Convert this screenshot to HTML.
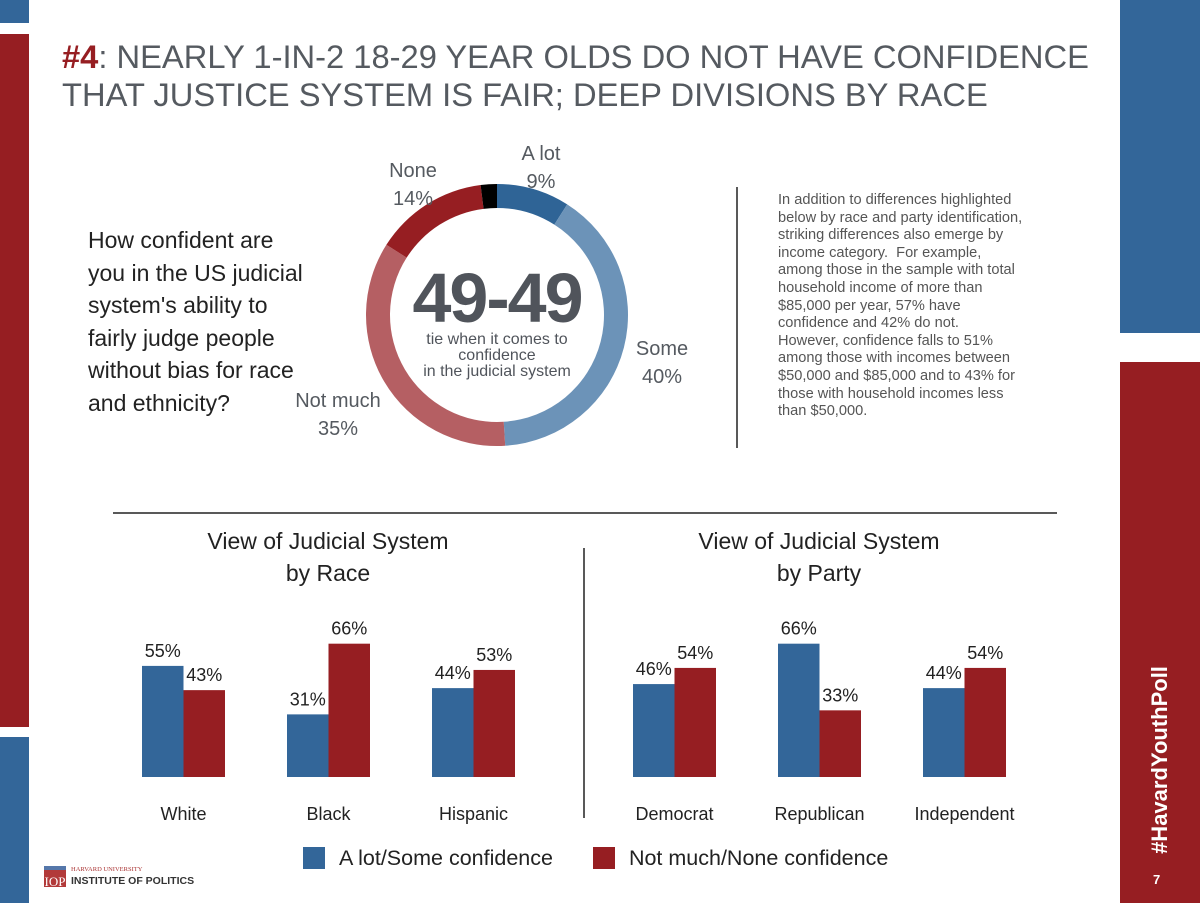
<!DOCTYPE html>
<html><head><meta charset="utf-8"><style>
body{margin:0;width:1200px;height:903px;background:#fff;position:relative;overflow:hidden;font-family:"Liberation Sans",sans-serif}
.abs{position:absolute}
</style></head><body>
<div class="abs" style="left:0;top:0;width:29px;height:23px;background:#336699"></div>
<div class="abs" style="left:0;top:34px;width:29px;height:693px;background:#961e22"></div>
<div class="abs" style="left:0;top:737px;width:29px;height:166px;background:#336699"></div>
<div class="abs" style="left:1120px;top:0;width:80px;height:333px;background:#336699"></div>
<div class="abs" style="left:1120px;top:362px;width:80px;height:541px;background:#961e22"></div>
<div class="abs" style="left:1160px;top:760px;transform:translate(-50%,-50%) rotate(-90deg);color:#fff;font-weight:bold;font-size:22px;white-space:nowrap">#HavardYouthPoll</div>
<div class="abs" style="left:1153px;top:872px;color:#fff;font-weight:bold;font-size:13px">7</div>

<div class="abs" style="left:62px;top:38px;font-size:32.7px;line-height:38px;color:#555a60;width:1056px"><span style="color:#961e22;font-weight:bold">#4</span>: NEARLY 1-IN-2 18-29 YEAR OLDS DO NOT HAVE CONFIDENCE<br>THAT JUSTICE SYSTEM IS FAIR; DEEP DIVISIONS BY RACE</div>

<div class="abs" style="left:88px;top:224px;font-size:23px;line-height:32.5px;color:#222">How confident are<br>you in the US judicial<br>system's ability to<br>fairly judge people<br>without bias for race<br>and ethnicity?</div>

<svg class="abs" style="left:0;top:0" width="1120" height="903">
<g id="donut"></g>
<g id="bars"></g>
<line x1="113" y1="513" x2="1057" y2="513" stroke="#222" stroke-width="1.5"/>
<line x1="584" y1="548" x2="584" y2="818" stroke="#222" stroke-width="1.5"/>
<line x1="737" y1="187" x2="737" y2="448" stroke="#222" stroke-width="1.5"/>
</svg>

<div class="abs" style="left:778px;top:192px;white-space:nowrap;font-size:14.6px;line-height:17.6px;color:#555">In addition to differences highlighted<br>below by race and party identification,<br>striking differences also emerge by<br>income category.&nbsp; For example,<br>among those in the sample with total<br>household income of more than<br>$85,000 per year, 57% have<br>confidence and 42% do not.<br>However, confidence falls to 51%<br>among those with incomes between<br>$50,000 and $85,000 and to 43% for<br>those with household incomes less<br>than $50,000.</div>

<div class="abs" style="left:377px;top:258px;width:240px;text-align:center;font-size:70px;font-weight:bold;color:#50545b;letter-spacing:-2px">49-49</div>
<div class="abs" style="left:397px;top:332px;width:200px;text-align:center;font-size:16px;line-height:16px;color:#50545b">tie when it comes to<br>confidence<br>in the judicial system</div>

<div class="abs" style="left:178px;top:525px;width:300px;text-align:center;font-size:23px;line-height:32px;color:#222">View of Judicial System<br>by Race</div>
<div class="abs" style="left:669px;top:525px;width:300px;text-align:center;font-size:23px;line-height:32px;color:#222">View of Judicial System<br>by Party</div>

<div class="abs" style="left:303px;top:846px;font-size:21.5px;color:#222;white-space:nowrap">
<span><span style="display:inline-block;width:22px;height:22px;background:#336699;vertical-align:-4px;margin-right:14px"></span>A lot/Some confidence</span>
<span style="margin-left:34px"><span style="display:inline-block;width:22px;height:22px;background:#961e22;vertical-align:-4px;margin-right:14px"></span>Not much/None confidence</span>
</div>

<div class="abs" style="left:44px;top:866px;width:22px;height:21px;background:#b23a3a;color:#fff;font-family:'Liberation Serif',serif;font-size:13px;line-height:24px;text-align:center;border-top:4px solid #5577aa;box-sizing:border-box">IOP</div>
<div class="abs" style="left:71px;top:866px;font-family:'Liberation Serif',serif;font-size:6.5px;color:#a33">HARVARD UNIVERSITY</div>
<div class="abs" style="left:71px;top:875px;font-size:10.5px;font-weight:bold;color:#333">INSTITUTE OF POLITICS</div>

<script>
const NS='http://www.w3.org/2000/svg';
const sliceLabels=['A lot','Some','Not much','None','Refused'];
const sliceValues=[9,40,35,14,2];
const sliceColors=['#2f6496','#6c93b8','#b55f63','#961e22','#000'];
const raceCats=['White','Black','Hispanic'];
const raceConf=[55,31,44];
const raceNo=[43,66,53];
const partyCats=['Democrat','Republican','Independent'];
const partyConf=[46,66,44];
const partyNo=[54,33,54];

function mk(tag,attrs,parent){const e=document.createElementNS(NS,tag);for(const k in attrs)e.setAttribute(k,attrs[k]);parent.appendChild(e);return e;}

const dg=document.getElementById('donut');
const cx=497,cy=315,R=131,r=107;
const total=sliceValues.reduce((a,b)=>a+b,0);
let acc=0;
function pt(rad,frac){const a=frac*2*Math.PI-Math.PI/2;return [cx+rad*Math.cos(a),cy+rad*Math.sin(a)];}
sliceValues.forEach((v,i)=>{
  const f0=acc/total,f1=(acc+v)/total;acc+=v;
  const [x0,y0]=pt(R,f0),[x1,y1]=pt(R,f1),[x2,y2]=pt(r,f1),[x3,y3]=pt(r,f0);
  const large=(f1-f0)>0.5?1:0;
  const p=mk('path',{d:`M${x0},${y0}A${R},${R} 0 ${large} 1 ${x1},${y1}L${x2},${y2}A${r},${r} 0 ${large} 0 ${x3},${y3}Z`,fill:sliceColors[i]},dg);
  
  
});
const donutLabelPos=[[541,160],[662,355],[338,407],[413,177]];
donutLabelPos.forEach((pos,i)=>{
  const t=mk('text',{x:pos[0],y:pos[1],'text-anchor':'middle','font-size':20,fill:'#555a60'},dg);
  
  
  const a=mk('tspan',{x:pos[0]},t);a.textContent=sliceLabels[i];
  const b=mk('tspan',{x:pos[0],dy:28},t);b.textContent=sliceValues[i]+'%';
});

const bg=document.getElementById('bars');
const base=777,scale=2.02,bw=41.5;
function yOf(v){return base-v*scale;}
function drawGroup(cats,conf,no,x0,prefix){
  cats.forEach((c,i)=>{
    const gx=x0+i*145;
    [[conf[i],'#336699','confidence',gx],[no[i],'#961e22','no-confidence',gx+bw]].forEach(([v,col,nm,x])=>{
      const rc=mk('rect',{x:x,y:yOf(v),width:bw,height:v*scale,fill:col},bg);
      
      
      const t=mk('text',{x:x+bw/2,y:yOf(v)-9,'text-anchor':'middle','font-size':18,fill:'#222'},bg);
      t.textContent=v+'%';
      
      
    });
    const l=mk('text',{x:gx+bw,y:820,'text-anchor':'middle','font-size':18,fill:'#222'},bg);
    l.textContent=c;
    
    
  });
}
drawGroup(raceCats,raceConf,raceNo,142,'race');
drawGroup(partyCats,partyConf,partyNo,633,'party');
</script>
</body></html>
